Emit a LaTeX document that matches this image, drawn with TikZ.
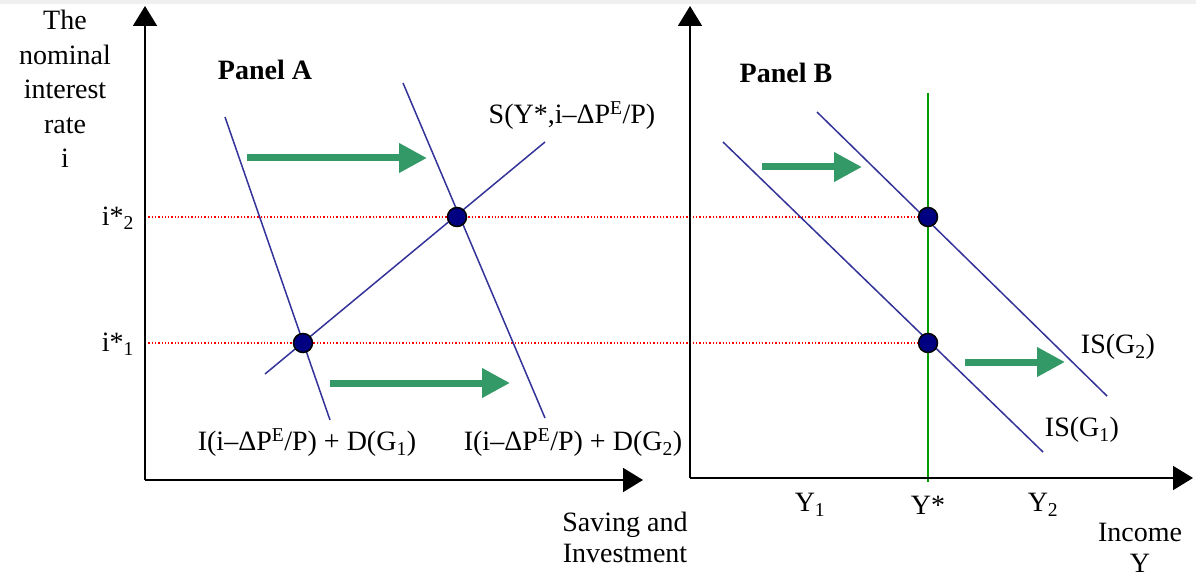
\documentclass[tikz,border=0pt]{standalone}
\usepackage{fontspec}
\setmainfont{Liberation Serif}
\usetikzlibrary{arrows.meta}
\definecolor{curveblue}{HTML}{333399}
\definecolor{shiftgreen}{HTML}{339966}
\definecolor{ygreen}{HTML}{009900}
\definecolor{dotblue}{HTML}{000080}
\tikzset{
  axisarrow/.style={line width=2pt, -{Triangle[length=20pt,width=24pt]}},
  curve/.style={curveblue, line width=1.5pt},
  shiftarrow/.style={shiftgreen, line width=7pt, -{Triangle[length=28pt,width=28pt]}},
  guide/.style={red, dotted, line width=1.3pt},
  eqdot/.style={circle, fill=dotblue, draw=black, line width=1.5pt, minimum size=19pt, inner sep=0pt},
  lbl/.style={font=\fontsize{28}{31}\selectfont, inner sep=0pt, align=center},
  panel/.style={font=\fontsize{28}{31}\selectfont\bfseries, inner sep=0pt}
}
\begin{document}
\begin{tikzpicture}[x=1pt,y=-1pt]
\useasboundingbox (0,0) rectangle (1196,577);
\fill[white] (0,0) rectangle (1196,577);
\fill[gray!12] (0,0) rectangle (1196,4);
% coordinates
\coordinate (oA) at (145,480);
\coordinate (yA) at (145,6);
\coordinate (xA) at (643,480);
\coordinate (oB) at (690,478);
\coordinate (yB) at (690,6);
\coordinate (xB) at (1193,478);
% guides
\coordinate (g2s) at (145,217);
\coordinate (g2e) at (920,217);
\coordinate (g1s) at (145,343);
\coordinate (g1e) at (920,343);
\draw[guide] (g2s) -- (g2e);
\draw[guide] (g1s) -- (g1e);
% Panel A curves
\coordinate (i1a) at (225,117); \coordinate (i1b) at (330,420);
\coordinate (i2a) at (403,83);  \coordinate (i2b) at (545,418);
\coordinate (sa) at (265,374);  \coordinate (sb) at (545,142);
\draw[curve] (i1a) -- (i1b);
\draw[curve] (i2a) -- (i2b);
\draw[curve] (sa) -- (sb);
% Panel B curves
\coordinate (ys) at (928,93); \coordinate (ye) at (928,482);
\draw[ygreen, line width=1.8pt] (ys) -- (ye);
\coordinate (is1a) at (723,142); \coordinate (is1b) at (1043,452);
\coordinate (is2a) at (817,112); \coordinate (is2b) at (1107,396);
\draw[curve] (is1a) -- (is1b);
\draw[curve] (is2a) -- (is2b);
% axes
\draw[axisarrow] (oA) -- (yA);
\draw[axisarrow] (oA) -- (xA);
\draw[axisarrow] (oB) -- (yB);
\draw[axisarrow] (oB) -- (xB);
% shift arrows
\coordinate (a1s) at (247,158); \coordinate (a1e) at (427,158);
\coordinate (a2s) at (330,383); \coordinate (a2e) at (510,383);
\coordinate (b1s) at (762,167); \coordinate (b1e) at (862,167);
\coordinate (b2s) at (965,362); \coordinate (b2e) at (1065,362);
\draw[shiftarrow] (a1s) -- (a1e);
\draw[shiftarrow] (a2s) -- (a2e);
\draw[shiftarrow] (b1s) -- (b1e);
\draw[shiftarrow] (b2s) -- (b2e);
% equilibrium dots
\node[eqdot] (eA1) at (303,343) {};
\node[eqdot] (eA2) at (457,217) {};
\node[eqdot] (eB1) at (928,343) {};
\node[eqdot] (eB2) at (928,217) {};
% labels
\node[lbl, font=\fontsize{28}{34.5}\selectfont] (ylab) at (65,89) {The\\nominal\\interest\\rate\\i};
\node[panel] (pA) at (265,70) {Panel A};
\node[panel] (pB) at (786,73) {Panel B};
\node[lbl] (li2) at (118,218) {i*\textsubscript{2}};
\node[lbl] (li1) at (118,344) {i*\textsubscript{1}};
\node[lbl] (lS) at (572,116) {S(Y*,i–ΔP\textsuperscript{E}/P)};
\node[lbl] (lI1) at (307,443) {I(i–ΔP\textsuperscript{E}/P) + D(G\textsubscript{1})};
\node[lbl] (lI2) at (573,443) {I(i–ΔP\textsuperscript{E}/P) + D(G\textsubscript{2})};
\node[lbl] (lSI) at (625,537) {Saving and\\Investment};
\node[lbl] (lIS2) at (1118,347) {IS(G\textsubscript{2})};
\node[lbl] (lIS1) at (1082,430) {IS(G\textsubscript{1})};
\node[lbl] (lY1) at (810,505) {Y\textsubscript{1}};
\node[lbl] (lYs) at (928,505) {Y*};
\node[lbl] (lY2) at (1043,505) {Y\textsubscript{2}};
\node[lbl] (lInc) at (1140,548) {Income\\Y};
\end{tikzpicture}
\end{document}
